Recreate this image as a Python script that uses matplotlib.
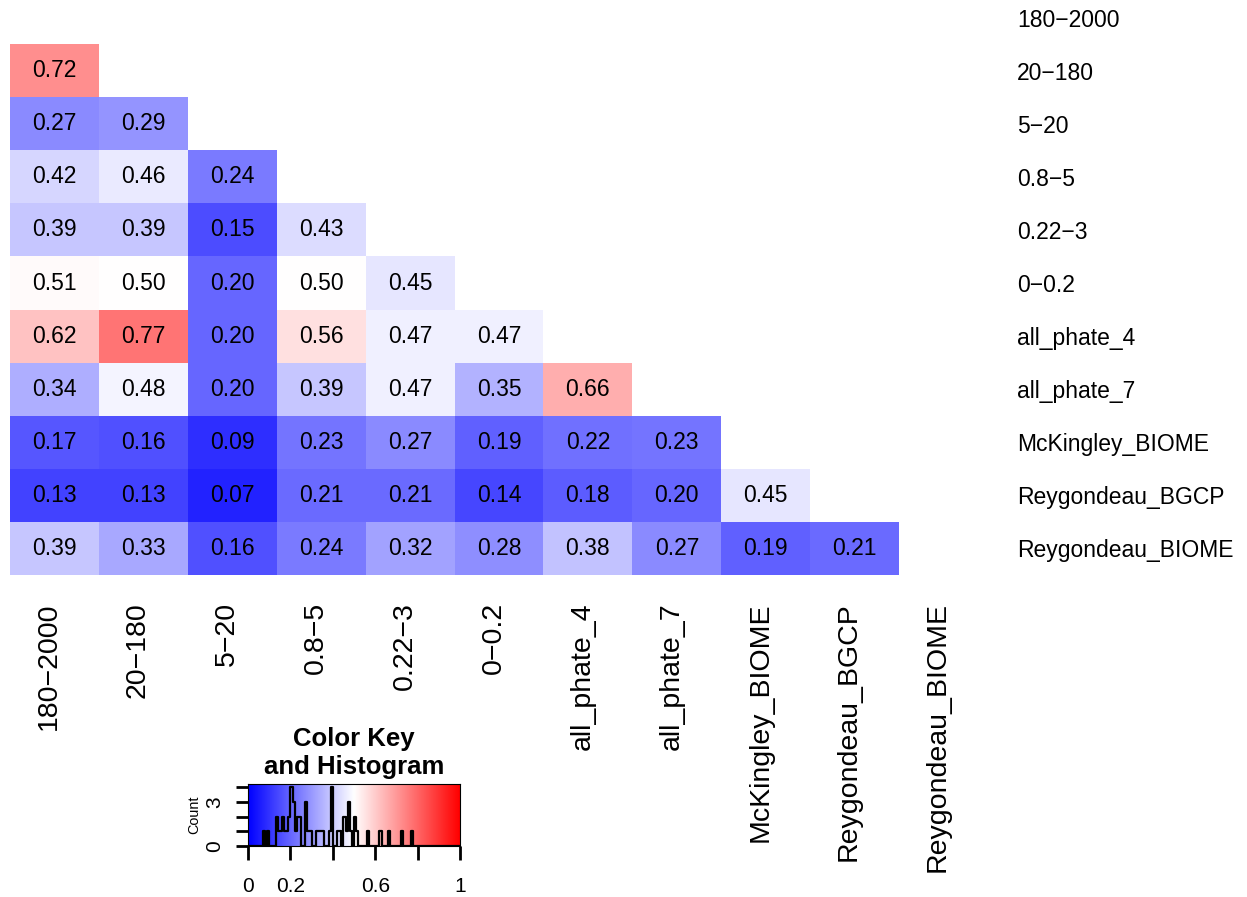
import numpy as np
import matplotlib
matplotlib.use("Agg")
import matplotlib.pyplot as plt
from matplotlib.transforms import ScaledTranslation

plt.rcParams["font.family"] = ["Liberation Sans", "DejaVu Sans"]

W, H = 1247, 897

LABELS = ["180−2000", "20−180", "5−20", "0.8−5", "0.22−3", "0−0.2",
          "all_phate_4", "all_phate_7", "McKingley_BIOME",
          "Reygondeau_BGCP", "Reygondeau_BIOME"]

# lower triangle, one list per row (row 180-2000 is empty)
ROW_20_180 = [0.72]
ROW_5_20 = [0.27, 0.29]
ROW_08_5 = [0.42, 0.46, 0.24]
ROW_022_3 = [0.39, 0.39, 0.15, 0.43]
ROW_0_02 = [0.51, 0.50, 0.20, 0.50, 0.45]
ROW_PHATE4 = [0.62, 0.77, 0.20, 0.56, 0.47, 0.47]
ROW_PHATE7 = [0.34, 0.48, 0.20, 0.39, 0.47, 0.35, 0.66]
ROW_MCK_BIOME = [0.17, 0.16, 0.09, 0.23, 0.27, 0.19, 0.22, 0.23]
ROW_REY_BGCP = [0.13, 0.13, 0.07, 0.21, 0.21, 0.14, 0.18, 0.20, 0.45]
ROW_REY_BIOME = [0.39, 0.33, 0.16, 0.24, 0.32, 0.28, 0.38, 0.27, 0.19, 0.21]

ROWS = [[], ROW_20_180, ROW_5_20, ROW_08_5, ROW_022_3, ROW_0_02, ROW_PHATE4,
        ROW_PHATE7, ROW_MCK_BIOME, ROW_REY_BGCP, ROW_REY_BIOME]

KEY_XTICKS = [0, 0.2, 0.4, 0.6, 0.8, 1]
KEY_XLABELS = ["0", "0.2", "", "0.6", "", "1"]
KEY_COUNTS = [0, 1, 2, 3, 4]
KEY_COUNT_LABELS = ["0", "", "", "3", ""]

n = len(LABELS)
mat = np.full((n, n), np.nan)
for i, row in enumerate(ROWS):
    mat[i, :len(row)] = row
masked = np.ma.masked_invalid(mat)

fig = plt.figure(figsize=(W / 100, H / 100), dpi=100)

# ── heatmap ─────────────────────────────────────────────
ax = fig.add_axes([10 / W, (H - 575) / H, 978 / W, 584 / H])
ax.pcolormesh(np.arange(n + 1), np.arange(n + 1), masked,
              cmap="bwr", vmin=0, vmax=1)
ax.set_xlim(0, n)
ax.set_ylim(n, 0)
for i in range(n):
    for j in range(n):
        if not np.isnan(mat[i, j]):
            ax.text(j + 0.5, i + 0.5, f"{mat[i, j]:.2f}",
                    ha="center", va="center", fontsize=16.5)

ax.set_xticks(np.arange(n) + 0.5)
ax.set_xticklabels(LABELS, rotation=90, fontsize=20.5)
ax.set_yticks(np.arange(n) + 0.5)
ax.set_yticklabels(LABELS, fontsize=16.5)
ax.yaxis.tick_right()
ax.tick_params(axis="x", length=0, pad=19.5)
ax.tick_params(axis="y", length=0, pad=21)
for lab in ax.get_xticklabels():
    lab.set_transform(lab.get_transform() + ScaledTranslation(-4 / 72, 0, fig.dpi_scale_trans))
for s in ax.spines.values():
    s.set_visible(False)

# ── color key + histogram ───────────────────────────────
vals = np.concatenate([np.array(r) for r in ROWS if r])
counts = np.bincount(np.round(vals * 100).astype(int), minlength=100)[:100]
breaks = np.arange(101) / 100
hy = np.append(counts, counts[-1])
scale = 0.95 / hy.max()

kax = fig.add_axes([248 / W, (H - 846) / H, 212 / W, 62 / H])
kax.imshow(np.linspace(0, 1, 256)[None, :], extent=[0, 1, 0, 1],
           aspect="auto", cmap="bwr", vmin=0, vmax=1)
kax.step(breaks, hy * scale, where="post", color="black", lw=1.6)
kax.set_xlim(0, 1)
kax.set_ylim(0, 1)
kax.set_xticks(KEY_XTICKS)
kax.set_xticklabels(KEY_XLABELS, fontsize=15)
kax.set_yticks(np.array(KEY_COUNTS) * scale)
kax.set_yticklabels(KEY_COUNT_LABELS, fontsize=15, rotation=90, va="center")
kax.tick_params(axis="x", length=10, width=2, pad=12)
kax.tick_params(axis="y", length=9, width=2, pad=8)
kax.set_ylabel("Count", fontsize=10.4, labelpad=3)
kax.set_title("Color Key\nand Histogram", fontsize=18.5, fontweight="bold", pad=7)
for s in kax.spines.values():
    s.set_linewidth(0.8)

fig.savefig("out.png", dpi=100)
